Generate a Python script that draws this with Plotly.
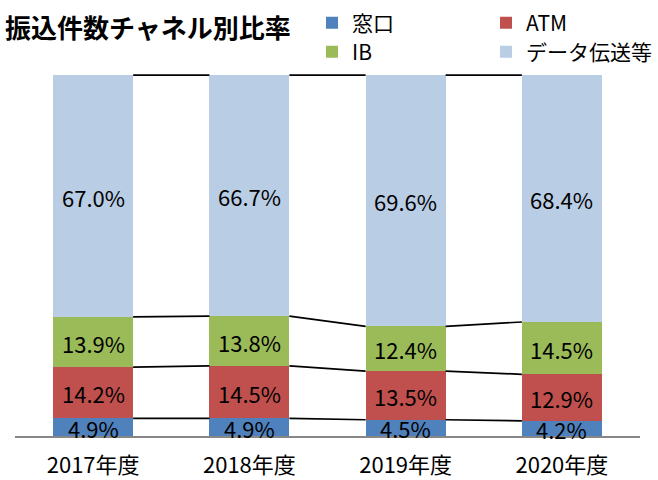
import numpy as np
import plotly.graph_objects as go

# ---- data ----
categories = ["2017年度", "2018年度", "2019年度", "2020年度"]
series_names = ["窓口", "ATM", "IB", "データ伝送等"]
madoguchi = [4.9, 4.9, 4.5, 4.2]
atm = [14.2, 14.5, 13.5, 12.9]
ib = [13.9, 13.8, 12.4, 14.5]
data_tx = [67.0, 66.7, 69.6, 68.4]
title_text = "振込件数チャネル別比率"

# ---- style ----
colors = ["#4F81BD", "#C0504D", "#9BBB59", "#B9CDE5"]
BAR_W = 0.512
FONT = "Noto Sans CJK JP"
W, H = 658, 480

series = [madoguchi, atm, ib, data_tx]
vals = np.array(series, dtype=float)
norm = vals / vals.sum(axis=0) * 100
cum = np.cumsum(norm, axis=0)
mid = cum - norm / 2
x = np.arange(len(categories))

fig = go.Figure()
legend_ids = ["legend", "legend2", "legend3", "legend4"]
for k in range(len(series)):
    fig.add_trace(go.Bar(
        x=x, y=series[k], name=series_names[k], width=BAR_W,
        marker=dict(color=colors[k], line=dict(width=0)),
        legend=legend_ids[k], hoverinfo="name+y",
    ))

# series lines (connect segment tops between adjacent bars)
for k in range(len(series)):
    xs, ys = [], []
    for i in range(len(x) - 1):
        xs += [x[i] + BAR_W / 2, x[i + 1] - BAR_W / 2, None]
        ys += [cum[k, i], cum[k, i + 1], None]
    fig.add_trace(go.Scatter(
        x=xs, y=ys, mode="lines", line=dict(color="black", width=1.7),
        showlegend=False, hoverinfo="skip",
    ))

# data labels
for k in range(len(series)):
    for i in range(len(x)):
        fig.add_annotation(
            x=x[i], y=mid[k, i], xref="x", yref="y",
            text=f"{series[k][i]:.1f}%", showarrow=False, yshift=-0.5,
            font=dict(size=22, color="black", family=FONT),
        )

leg_pos = [(312, 23), (486, 23), (312, 52), (486, 52)]
legend_layouts = {}
for lid, (px, py) in zip(legend_ids, leg_pos):
    legend_layouts[lid] = dict(
        x=px / W, y=1 - py / H, xref="container", yref="container",
        xanchor="left", yanchor="middle", orientation="h",
        bgcolor="rgba(0,0,0,0)", borderwidth=0,
        font=dict(size=21, family=FONT, color="black"),
        itemclick=False, itemdoubleclick=False,
    )

fig.update_layout(
    width=W, height=H,
    margin=dict(l=15, r=18, t=73, b=44, autoexpand=False),
    barmode="stack", barnorm="percent",
    plot_bgcolor="white", paper_bgcolor="white",
    title=dict(
        text=title_text, x=5 / W, xref="container", xanchor="left",
        y=1 - 29 / H, yref="container", yanchor="middle",
        font=dict(family=FONT, size=26, color="black", weight="bold"),
    ),
    xaxis=dict(
        range=[-0.5, len(categories) - 0.5], tickvals=x, ticktext=categories,
        showline=True, linecolor="#878787", linewidth=2,
        showgrid=False, zeroline=False, ticks="",
        tickfont=dict(size=22, family=FONT, color="black"),
        ticklabelstandoff=9,
    ),
    yaxis=dict(range=[0, 100.6], visible=False),
    **legend_layouts,
)

fig.write_html(
    "out.html",
    config={"displayModeBar": False},
    post_script="document.body.style.margin='0';document.body.style.overflow='hidden';",
)
